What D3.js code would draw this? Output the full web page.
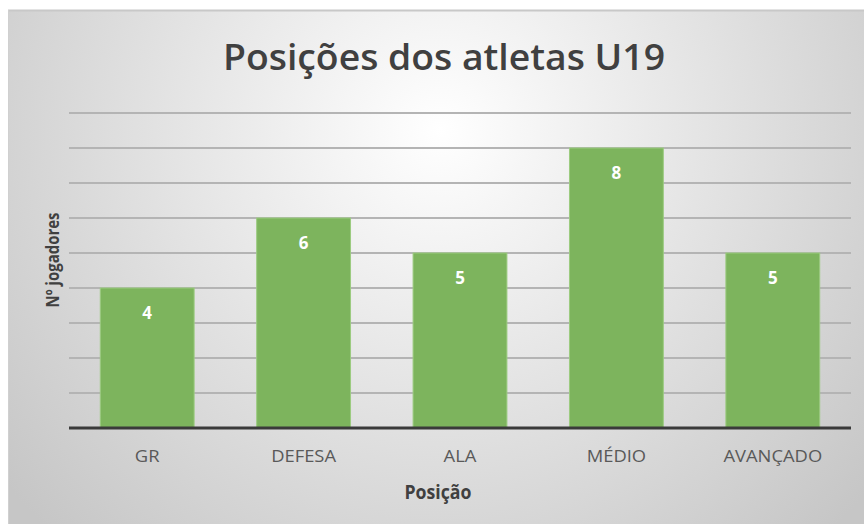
<!DOCTYPE html>
<html>
<head>
<meta charset="utf-8">
<script src="https://cdn.jsdelivr.net/npm/d3@7"></script>
<style>
  body { margin: 0; background: #fff; }
  svg { display: block; }
</style>
</head>
<body>
<div id="chart-container"></div>
<script>
// Chart data
const positions = ["GR", "DEFESA", "ALA", "MÉDIO", "AVANÇADO"];
const players = [4, 6, 5, 8, 5];
const yTicks = [1, 2, 3, 4, 5, 6, 7, 8, 9];

const width = 864, height = 524;
const font = "'Open Sans', sans-serif";

const svg = d3.select("#chart-container")
              .append("svg")
              .attr("width", width)
              .attr("height", height);

// Radial gradient background like the Excel chart style
const defs = svg.append("defs");
const grad = defs.append("radialGradient")
                 .attr("id", "bg")
                 .attr("gradientUnits", "userSpaceOnUse")
                 .attr("cx", 440).attr("cy", 130).attr("r", 560);
grad.append("stop").attr("offset", "0%").attr("stop-color", "#ffffff");
grad.append("stop").attr("offset", "100%").attr("stop-color", "#c6c6c6");

svg.append("rect")
   .attr("x", 8).attr("y", 10)
   .attr("width", width - 8).attr("height", height - 10)
   .attr("fill", "url(#bg)");
svg.append("line")
   .attr("x1", 8).attr("x2", width).attr("y1", 10.5).attr("y2", 10.5)
   .attr("stroke", "#c8c8c8").attr("stroke-width", 2);
svg.append("line")
   .attr("x1", 8.5).attr("x2", 8.5).attr("y1", 10).attr("y2", height)
   .attr("stroke", "#d0d0d0").attr("stroke-width", 1);

// Plot area
const plot = { left: 69, right: 851, top: 113, bottom: 428 };

const x = d3.scaleBand()
            .domain(positions)
            .range([plot.left, plot.right])
            .paddingInner(0.4)
            .paddingOuter(0.2);

const y = d3.scaleLinear()
            .domain([0, 9])
            .range([plot.bottom, plot.top]);

// Gridlines
svg.append("g")
   .selectAll("line")
   .data(yTicks)
   .enter().append("line")
   .attr("x1", plot.left).attr("x2", plot.right)
   .attr("y1", d => y(d)).attr("y2", d => y(d))
   .attr("stroke", "#b4b4b4")
   .attr("stroke-width", 2);

// Bars
svg.append("g")
   .selectAll("rect")
   .data(players)
   .enter().append("rect")
   .attr("x", (d, i) => x(positions[i]))
   .attr("y", d => y(d))
   .attr("width", x.bandwidth())
   .attr("height", d => y(0) - y(d))
   .attr("fill", "#7db45d")
   .attr("stroke", "#9ccb80")
   .attr("stroke-width", 1);

// Data labels
svg.append("g")
   .selectAll("text")
   .data(players)
   .enter().append("text")
   .attr("x", (d, i) => x(positions[i]) + x.bandwidth() / 2)
   .attr("y", d => y(d) + 31)
   .attr("text-anchor", "middle")
   .attr("fill", "#ffffff")
   .style("font-family", font)
   .style("font-size", "17px")
   .style("font-weight", "bold")
   .text(d => d);

// X axis
const xAxis = svg.append("g")
   .attr("transform", "translate(0," + plot.bottom + ")")
   .call(d3.axisBottom(x).tickSize(0).tickPadding(22));
xAxis.select(".domain")
     .attr("d", "M" + plot.left + ",0H" + plot.right)
     .attr("stroke", "#3a3a3a")
     .attr("stroke-width", 3);
xAxis.selectAll("text")
     .attr("fill", "#595959")
     .style("font-family", font)
     .style("font-size", "17px")
     .attr("textLength", function() { return this.getComputedTextLength() * 1.08; })
     .attr("lengthAdjust", "spacingAndGlyphs");

// Axis titles
svg.append("text")
   .attr("x", 438).attr("y", 499)
   .attr("text-anchor", "middle")
   .attr("fill", "#404040")
   .style("font-family", font)
   .style("font-size", "19px")
   .style("font-weight", "bold")
   .attr("textLength", 67)
   .attr("lengthAdjust", "spacingAndGlyphs")
   .text("Posição");

svg.append("text")
   .attr("transform", "translate(59,260) rotate(-90)")
   .attr("text-anchor", "middle")
   .attr("fill", "#404040")
   .style("font-family", font)
   .style("font-size", "17px")
   .style("font-weight", "bold")
   .attr("textLength", 95)
   .attr("lengthAdjust", "spacingAndGlyphs")
   .text("Nº jogadores");

// Title
svg.append("text")
   .attr("x", 444).attr("y", 70)
   .attr("text-anchor", "middle")
   .attr("fill", "#404040")
   .style("font-family", font)
   .style("font-size", "36px")
   .style("font-weight", 600)
   .attr("textLength", 442)
   .attr("lengthAdjust", "spacingAndGlyphs")
   .text("Posições dos atletas U19");
</script>
</body>
</html>
